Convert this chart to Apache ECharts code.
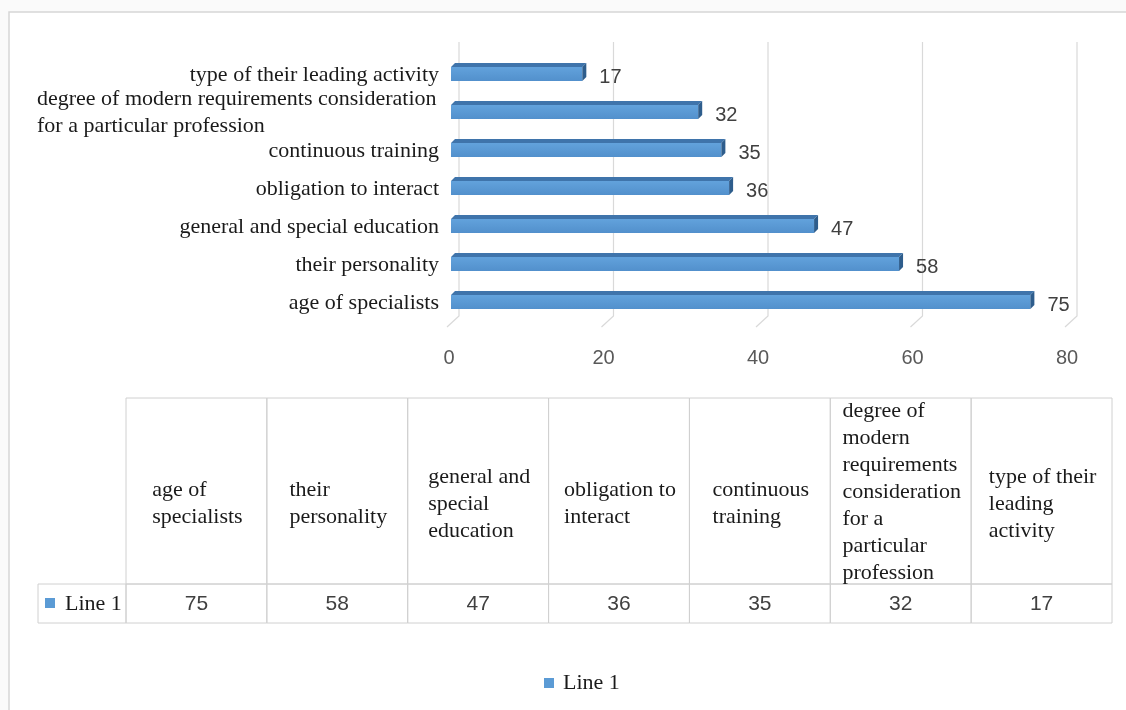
<!DOCTYPE html>
<html>
<head>
<meta charset="utf-8">
<script src="https://cdn.jsdelivr.net/npm/echarts@6/dist/echarts.min.js"></script>
<style>
  html, body { margin: 0; padding: 0; background: #fafafa; }
  #chart { width: 1126px; height: 710px; }
</style>
</head>
<body>
<div id="chart"></div>
<script>
// data, bottom category first
const categories = [
  'age of specialists',
  'their personality',
  'general and special education',
  'obligation to interact',
  'continuous training',
  'degree of modern requirements consideration for a particular profession',
  'type of their leading activity'
];
const axisLabels = [
  'age of specialists',
  'their personality',
  'general and special education',
  'obligation to interact',
  'continuous training',
  'degree of modern requirements consideration\nfor a particular profession',
  'type of their leading activity'
];
const tableLabels = [
  'age of\nspecialists',
  'their\npersonality',
  'general and\nspecial\neducation',
  'obligation to\ninteract',
  'continuous\ntraining',
  'degree of\nmodern\nrequirements\nconsideration\nfor a\nparticular\nprofession',
  'type of their\nleading\nactivity'
];
const values = [75, 58, 47, 36, 35, 32, 17];
const tickValues = [0, 20, 40, 60, 80];
const seriesName = 'Line 1';

const SERIF = "'Liberation Serif', 'Times New Roman', serif";
const SANS = "'Liberation Sans', Arial, sans-serif";
const SERIF_SIZE = 22;
const BLUE = '#5b9bd5';
const GRID_COLOR = '#d9d9d9';
const TABLE_BORDER = '#d0d0d0';

const measureCtx = document.createElement('canvas').getContext('2d');
function textWidth(str, font) {
  measureCtx.font = font;
  return Math.max(...str.split('\n').map(s => measureCtx.measureText(s).width));
}

const serifFont = SERIF_SIZE + 'px ' + SERIF;
const labelWidth = Math.ceil(textWidth(axisLabels.join('\n'), serifFont)) + 2;

const myChart = echarts.init(document.getElementById('chart'));

const option = {
  backgroundColor: '#fafafa',
  animation: false,
  graphic: [{
    type: 'rect',
    z: -10,
    shape: { x: 9, y: 12, width: 1200, height: 800 },
    style: { fill: '#ffffff', stroke: '#d6d6d6', lineWidth: 1.5 }
  }],
  legend: {
    data: [seriesName],
    left: 539,
    top: 667,
    icon: 'rect',
    itemWidth: 10,
    itemHeight: 10,
    textStyle: { fontFamily: SERIF, fontSize: SERIF_SIZE, color: '#1a1a1a', padding: [0, 0, 0, 4] }
  },
  grid: [
    { left: 451, right: 57, top: 54, height: 266 },
    { left: 126, right: 14, top: 398, height: 225 }
  ],
  xAxis: [
    {
      type: 'value',
      gridIndex: 0,
      min: 0,
      max: 80,
      interval: 20,
      axisLine: { show: false },
      axisTick: { show: false },
      splitLine: { show: false },
      axisLabel: {
        margin: 28,
        fontFamily: SANS,
        fontSize: 20,
        color: '#595959',
        padding: [0, 4, 0, 0]
      }
    },
    {
      type: 'category',
      gridIndex: 1,
      data: categories,
      show: false
    }
  ],
  yAxis: [
    {
      type: 'category',
      gridIndex: 0,
      data: categories,
      axisLine: { show: false },
      axisTick: { show: false },
      axisLabel: {
        interval: 0,
        hideOverlap: false,
        margin: 12,
        padding: [4, 0, 0, 0],
        fontFamily: SERIF,
        fontSize: SERIF_SIZE,
        color: '#1a1a1a',
        lineHeight: 27,
        formatter: function (value, index) {
          const lbl = axisLabels[index];
          if (lbl.indexOf('\n') < 0) return lbl;
          return lbl.split('\n').map(s => '{l|' + s + '}').join('\n');
        },
        rich: {
          l: {
            width: labelWidth,
            align: 'left',
            fontFamily: SERIF,
            fontSize: SERIF_SIZE,
            color: '#1a1a1a',
            lineHeight: 27
          }
        }
      }
    },
    {
      type: 'value',
      gridIndex: 1,
      min: 0,
      max: 1,
      show: false
    }
  ],
  series: [
    {
      // 3d-ish gridlines on the back wall
      type: 'custom',
      name: 'grid',
      xAxisIndex: 0,
      yAxisIndex: 0,
      z: 1,
      silent: true,
      data: tickValues.map(v => [v, 0]),
      renderItem: function (params, api) {
        const x = api.coord([api.value(0), 0])[0];
        const cs = params.coordSys;
        return {
          type: 'polyline',
          shape: {
            points: [
              [x + 8, cs.y - 12],
              [x + 8, cs.y + cs.height - 4],
              [x - 4, cs.y + cs.height + 7]
            ]
          },
          style: { stroke: GRID_COLOR, lineWidth: 1.2, fill: null }
        };
      }
    },
    {
      type: 'custom',
      name: seriesName,
      xAxisIndex: 0,
      yAxisIndex: 0,
      z: 3,
      itemStyle: { color: BLUE },
      data: values.map((v, i) => [v, i]),
      renderItem: function (params, api) {
        const start = api.coord([0, api.value(1)]);
        const end = api.coord([api.value(0), api.value(1)]);
        const x0 = start[0], x1 = end[0], cy = start[1];
        const d = 4, top = cy - 6, bot = cy + 8;
        return {
          type: 'group',
          children: [
            {
              type: 'rect',
              shape: { x: x0, y: top, width: x1 - x0, height: bot - top },
              style: {
                fill: new echarts.graphic.LinearGradient(0, 0, 0, 1, [
                  { offset: 0, color: '#62a2dc' },
                  { offset: 1, color: '#5290cc' }
                ])
              }
            },
            {
              type: 'polygon',
              shape: { points: [[x0, top], [x1, top], [x1 + d, top - d], [x0 + d, top - d]] },
              style: { fill: '#3f74ab' }
            },
            {
              type: 'polygon',
              shape: { points: [[x1, top], [x1 + d, top - d], [x1 + d, bot - d], [x1, bot]] },
              style: { fill: '#2e5d8c' }
            },
            {
              type: 'text',
              style: {
                text: String(api.value(0)),
                x: x1 + 17,
                y: cy + 4,
                align: 'left',
                verticalAlign: 'middle',
                fontFamily: SANS,
                fontSize: 20,
                fill: '#404040'
              }
            }
          ]
        };
      }
    },
    {
      // data table under the chart
      type: 'custom',
      name: 'table',
      xAxisIndex: 1,
      yAxisIndex: 1,
      z: 2,
      silent: true,
      data: categories.map((c, i) => [i, 0]),
      renderItem: function (params, api) {
        const i = api.value(0);
        const cx = api.coord([i, 0])[0];
        const w = api.size([1, 0])[0];
        const cs = params.coordSys;
        const rowH = 39;
        const hdrTop = cs.y, hdrH = cs.height - rowH;
        const rowTop = hdrTop + hdrH;
        const x = cx - w / 2;
        const lbl = tableLabels[i];
        const nLines = lbl.split('\n').length;
        const blockH = nLines * 27;
        const bw = textWidth(lbl, serifFont);
        const cy = Math.min(hdrTop + hdrH * 0.57, hdrTop + hdrH - blockH / 2 + 3);
        const children = [
          {
            type: 'rect',
            shape: { x: x, y: hdrTop, width: w, height: hdrH },
            style: { fill: 'none', stroke: TABLE_BORDER, lineWidth: 1 }
          },
          {
            type: 'rect',
            shape: { x: x, y: rowTop, width: w, height: rowH },
            style: { fill: 'none', stroke: TABLE_BORDER, lineWidth: 1 }
          },
          {
            type: 'text',
            style: {
              text: lbl,
              x: cx - bw / 2 + 1,
              y: cy,
              align: 'left',
              verticalAlign: 'middle',
              fontFamily: SERIF,
              fontSize: SERIF_SIZE,
              lineHeight: 27,
              fill: '#1a1a1a'
            }
          },
          {
            type: 'text',
            style: {
              text: String(values[i]),
              x: cx,
              y: rowTop + rowH / 2 + 1,
              align: 'center',
              verticalAlign: 'middle',
              fontFamily: SANS,
              fontSize: 21,
              fill: '#404040'
            }
          }
        ];
        if (i === 0) {
          const lx = x - 88;
          children.push(
            {
              type: 'rect',
              shape: { x: lx, y: rowTop, width: 88, height: rowH },
              style: { fill: 'none', stroke: TABLE_BORDER, lineWidth: 1 }
            },
            {
              type: 'rect',
              shape: { x: lx + 7, y: rowTop + 14, width: 10, height: 10 },
              style: { fill: BLUE }
            },
            {
              type: 'text',
              style: {
                text: seriesName,
                x: lx + 27,
                y: rowTop + rowH / 2 + 1,
                align: 'left',
                verticalAlign: 'middle',
                fontFamily: SERIF,
                fontSize: SERIF_SIZE,
                fill: '#1a1a1a'
              }
            }
          );
        }
        return { type: 'group', children: children };
      }
    }
  ]
};

myChart.setOption(option);
window.addEventListener('resize', () => {
  myChart.resize();
});
</script>
</body>
</html>
